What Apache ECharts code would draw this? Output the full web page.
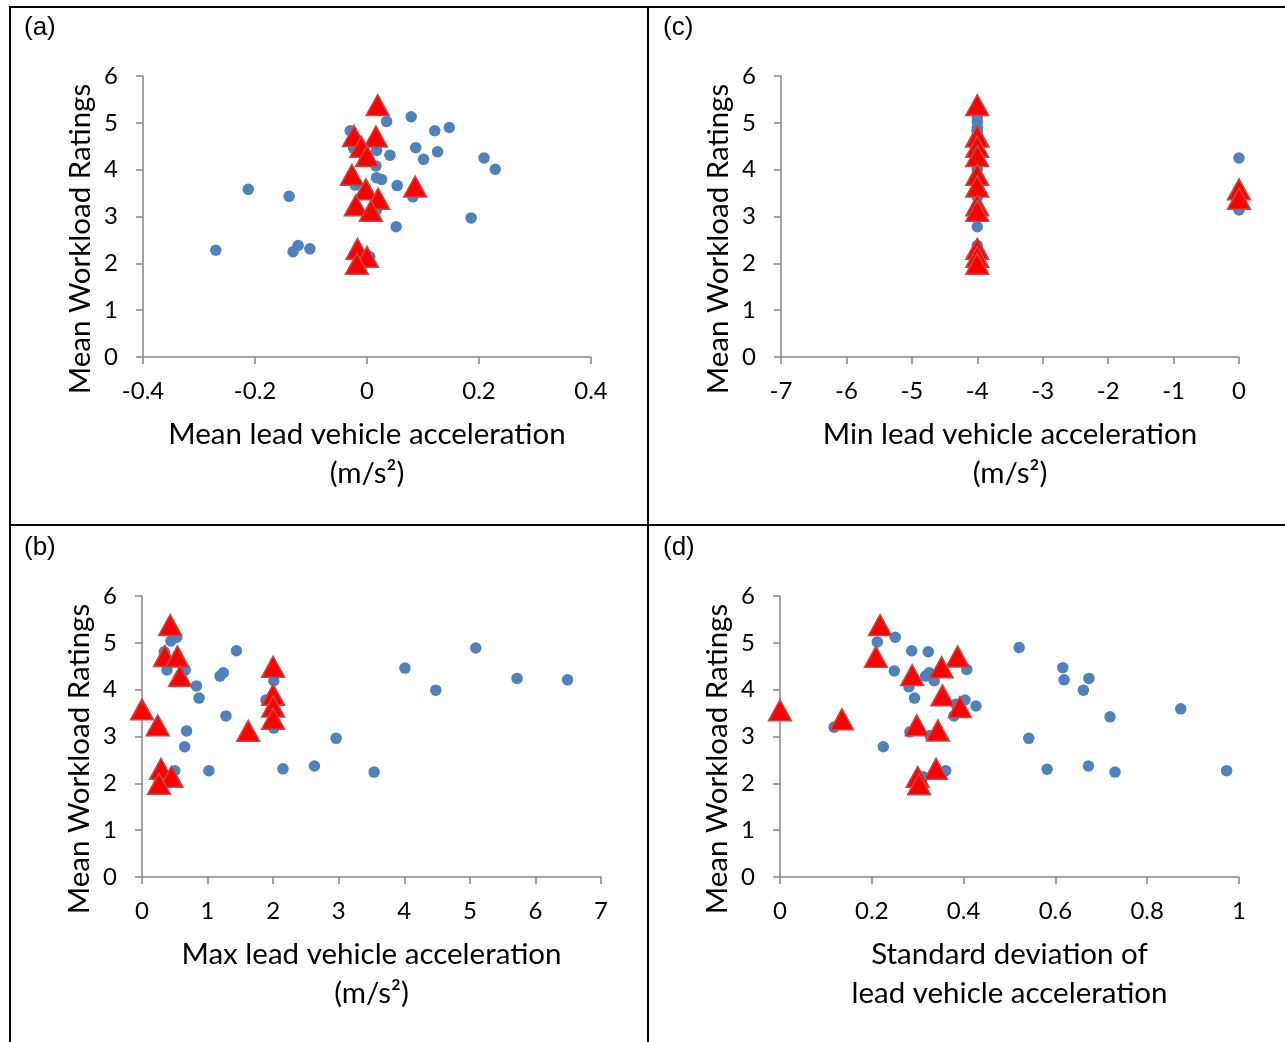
<!DOCTYPE html>
<html>
<head>
<meta charset="utf-8">
<script src="https://cdn.jsdelivr.net/npm/echarts@6/dist/echarts.min.js"></script>
<style>
  html, body { margin: 0; padding: 0; background: #fff; }
  #chart { width: 1285px; height: 1042px; }
</style>
</head>
<body>
<div id="chart"></div>
<script>
// Workload ratings against lead vehicle acceleration metrics.
// Each list holds [acceleration metric, mean workload rating] pairs.

// (a) Mean lead vehicle acceleration
const meanAccBlue = [
  [0.079, 5.13], [0.035, 5.03], [-0.030, 4.83], [0.121, 4.83], [0.147, 4.90],
  [0.087, 4.47], [0.126, 4.38], [0.101, 4.22], [0.041, 4.31], [0.017, 4.41],
  [-0.024, 4.46], [0.016, 4.08], [0.209, 4.25], [0.229, 4.01], [0.017, 3.83],
  [0.026, 3.79], [0.054, 3.66], [-0.021, 3.67], [0.082, 3.42], [0.186, 2.97],
  [0.052, 2.78], [0.017, 3.14], [0.005, 2.14], [-0.212, 3.58], [-0.139, 3.43],
  [-0.270, 2.28], [-0.123, 2.38], [-0.132, 2.25], [-0.102, 2.31]
];
const meanAccRed = [
  [0.019, 5.38], [-0.023, 4.72], [0.016, 4.71], [-0.010, 4.49], [0.000, 4.29],
  [-0.027, 3.89], [-0.002, 3.58], [0.086, 3.64], [0.020, 3.38], [-0.020, 3.24],
  [0.007, 3.12], [-0.017, 2.31], [0.000, 2.14], [-0.018, 1.99]
];

// (b) Max lead vehicle acceleration
const maxAccBlue = [
  [0.53, 5.12], [0.44, 5.04], [0.34, 4.81], [1.44, 4.83], [5.09, 4.89],
  [4.01, 4.46], [1.24, 4.36], [6.49, 4.21], [1.19, 4.29], [0.38, 4.42],
  [0.66, 4.42], [0.83, 4.08], [5.72, 4.24], [4.48, 3.99], [0.87, 3.82],
  [1.89, 3.78], [2.01, 4.19], [2.00, 3.66], [1.28, 3.44], [2.96, 2.96],
  [0.65, 2.78], [0.68, 3.12], [2.01, 3.18], [0.30, 2.14], [0.50, 2.27],
  [1.02, 2.27], [2.15, 2.31], [2.63, 2.37], [3.54, 2.24]
];
const maxAccRed = [
  [0.43, 5.38], [0.35, 4.72], [0.54, 4.71], [2.00, 4.49], [0.58, 4.29],
  [2.00, 3.89], [0.00, 3.58], [2.00, 3.64], [2.00, 3.38], [0.24, 3.24],
  [1.62, 3.12], [0.29, 2.31], [0.45, 2.14], [0.26, 1.99]
];

// (c) Min lead vehicle acceleration
const minAccBlue = [
  [-4, 5.13], [-4, 5.03], [-4, 4.83], [-4, 4.83], [-4, 4.90],
  [-4, 4.47], [-4, 4.38], [-4, 4.22], [-4, 4.31], [-4, 4.41],
  [-4, 4.46], [-4, 4.08], [0, 4.25], [-4, 4.01], [-4, 3.83],
  [-4, 3.79], [-4, 3.66], [-4, 3.67], [-4, 3.42], [-4, 2.97],
  [-4, 2.78], [0, 3.14], [-4, 2.14], [-4, 3.58], [-4, 3.43],
  [-4, 2.28], [-4, 2.38], [-4, 2.25], [-4, 2.31]
];
const minAccRed = [
  [-4, 5.38], [-4, 4.72], [-4, 4.71], [-4, 4.49], [-4, 4.29],
  [-4, 3.89], [0, 3.58], [-4, 3.64], [0, 3.38], [-4, 3.24],
  [-4, 3.12], [-4, 2.31], [-4, 2.14], [-4, 1.99]
];

// (d) Standard deviation of lead vehicle acceleration
const sdAccBlue = [
  [0.251, 5.12], [0.212, 5.02], [0.287, 4.83], [0.323, 4.81], [0.521, 4.90],
  [0.616, 4.47], [0.325, 4.36], [0.619, 4.21], [0.317, 4.29], [0.249, 4.40],
  [0.407, 4.43], [0.281, 4.06], [0.673, 4.24], [0.661, 3.99], [0.293, 3.82],
  [0.403, 3.78], [0.336, 4.19], [0.383, 3.69], [0.427, 3.65], [0.379, 3.44],
  [0.719, 3.42], [0.873, 3.59], [0.542, 2.96], [0.225, 2.78], [0.118, 3.20],
  [0.283, 3.10], [0.327, 3.02], [0.312, 2.14], [0.361, 2.27], [0.582, 2.30],
  [0.672, 2.37], [0.730, 2.24], [0.973, 2.27]
];
const sdAccRed = [
  [0.218, 5.38], [0.209, 4.70], [0.387, 4.71], [0.352, 4.48], [0.288, 4.31],
  [0.354, 3.88], [0.000, 3.56], [0.392, 3.63], [0.135, 3.37], [0.298, 3.24],
  [0.344, 3.13], [0.340, 2.31], [0.300, 2.14], [0.303, 1.98]
];

const yTicks = [0, 1, 2, 3, 4, 5, 6];

const panels = [
  { tag: '(a)', name: 'Mean lead vehicle acceleration\n(m/s²)', min: -0.4, max: 0.4, step: 0.2,
    blue: meanAccBlue, red: meanAccRed, grid: { left: 143, top: 76, width: 448, height: 281 } },
  { tag: '(c)', name: 'Min lead vehicle acceleration\n(m/s²)', min: -7, max: 0, step: 1,
    blue: minAccBlue, red: minAccRed, grid: { left: 781, top: 76, width: 458, height: 281 } },
  { tag: '(b)', name: 'Max lead vehicle acceleration\n(m/s²)', min: 0, max: 7, step: 1,
    blue: maxAccBlue, red: maxAccRed, grid: { left: 142, top: 596, width: 459, height: 281 } },
  { tag: '(d)', name: 'Standard deviation of\nlead vehicle acceleration', min: 0, max: 1, step: 0.2,
    blue: sdAccBlue, red: sdAccRed, grid: { left: 780, top: 596, width: 459, height: 281 } }
];

const FONT = 'Lato, "Open Sans", sans-serif';
const AXIS_GREY = '#868686';

const grid = [], xAxis = [], yAxis = [], series = [];
panels.forEach((p, i) => {
  grid.push(Object.assign({ containLabel: false }, p.grid));
  xAxis.push({
    type: 'value', gridIndex: i, min: p.min, max: p.max, interval: p.step,
    name: p.name, nameLocation: 'middle', nameGap: 58,
    nameTextStyle: { fontFamily: FONT, fontSize: 29.5, color: '#000', lineHeight: 39 },
    axisLine: { show: true, onZero: false, lineStyle: { color: AXIS_GREY, width: 1.5 } },
    axisTick: { show: true, length: 7, lineStyle: { color: AXIS_GREY, width: 1.5 } },
    axisLabel: { fontFamily: FONT, fontSize: 24, color: '#000', margin: 22,
      formatter: v => String(Math.round(v * 10) / 10) },
    splitLine: { show: false }
  });
  yAxis.push({
    type: 'value', gridIndex: i, min: yTicks[0], max: yTicks[yTicks.length - 1], interval: 1,
    name: 'Mean Workload Ratings', nameLocation: 'middle', nameGap: 48,
    nameTextStyle: { fontFamily: FONT, fontSize: 29.5, color: '#000', padding: [0, 45, 0, 0] },
    axisLine: { show: true, onZero: false, lineStyle: { color: AXIS_GREY, width: 1.5 } },
    axisTick: { show: true, length: 7, lineStyle: { color: AXIS_GREY, width: 1.5 } },
    axisLabel: { fontFamily: FONT, fontSize: 24, color: '#000', margin: 25 },
    splitLine: { show: false }
  });
  series.push({
    type: 'scatter', xAxisIndex: i, yAxisIndex: i, data: p.blue,
    symbol: 'circle', symbolSize: 11.5,
    itemStyle: { color: '#4F81BD', opacity: 1 },
    z: 2
  });
  series.push({
    type: 'scatter', xAxisIndex: i, yAxisIndex: i, data: p.red,
    symbol: 'triangle', symbolSize: [23, 21],
    itemStyle: { color: '#FF0000', borderColor: '#BE4B48', borderWidth: 1.5, opacity: 1 },
    z: 3
  });
});

// Frame lines dividing the four panels, plus panel tags
const frame = { stroke: '#000', lineWidth: 2 };
const graphic = [
  { type: 'line', shape: { x1: 9, y1: 7, x2: 1285, y2: 7 }, style: frame },
  { type: 'line', shape: { x1: 10, y1: 6, x2: 10, y2: 1042 }, style: frame },
  { type: 'line', shape: { x1: 648, y1: 6, x2: 648, y2: 1042 }, style: frame },
  { type: 'line', shape: { x1: 9, y1: 525, x2: 1285, y2: 525 }, style: frame }
];
const tagPos = [[24, 15], [663, 15], [24, 535], [663, 535]];
panels.forEach((p, i) => {
  graphic.push({
    type: 'text', left: tagPos[i][0], top: tagPos[i][1],
    style: { text: p.tag, fill: '#000', font: '26px "Liberation Sans", Arial, sans-serif' }
  });
});

const chart = echarts.init(document.getElementById('chart'), null, { renderer: 'canvas' });
chart.setOption({
  backgroundColor: '#fff',
  animation: false,
  grid, xAxis, yAxis, series, graphic
});
</script>
</body>
</html>
